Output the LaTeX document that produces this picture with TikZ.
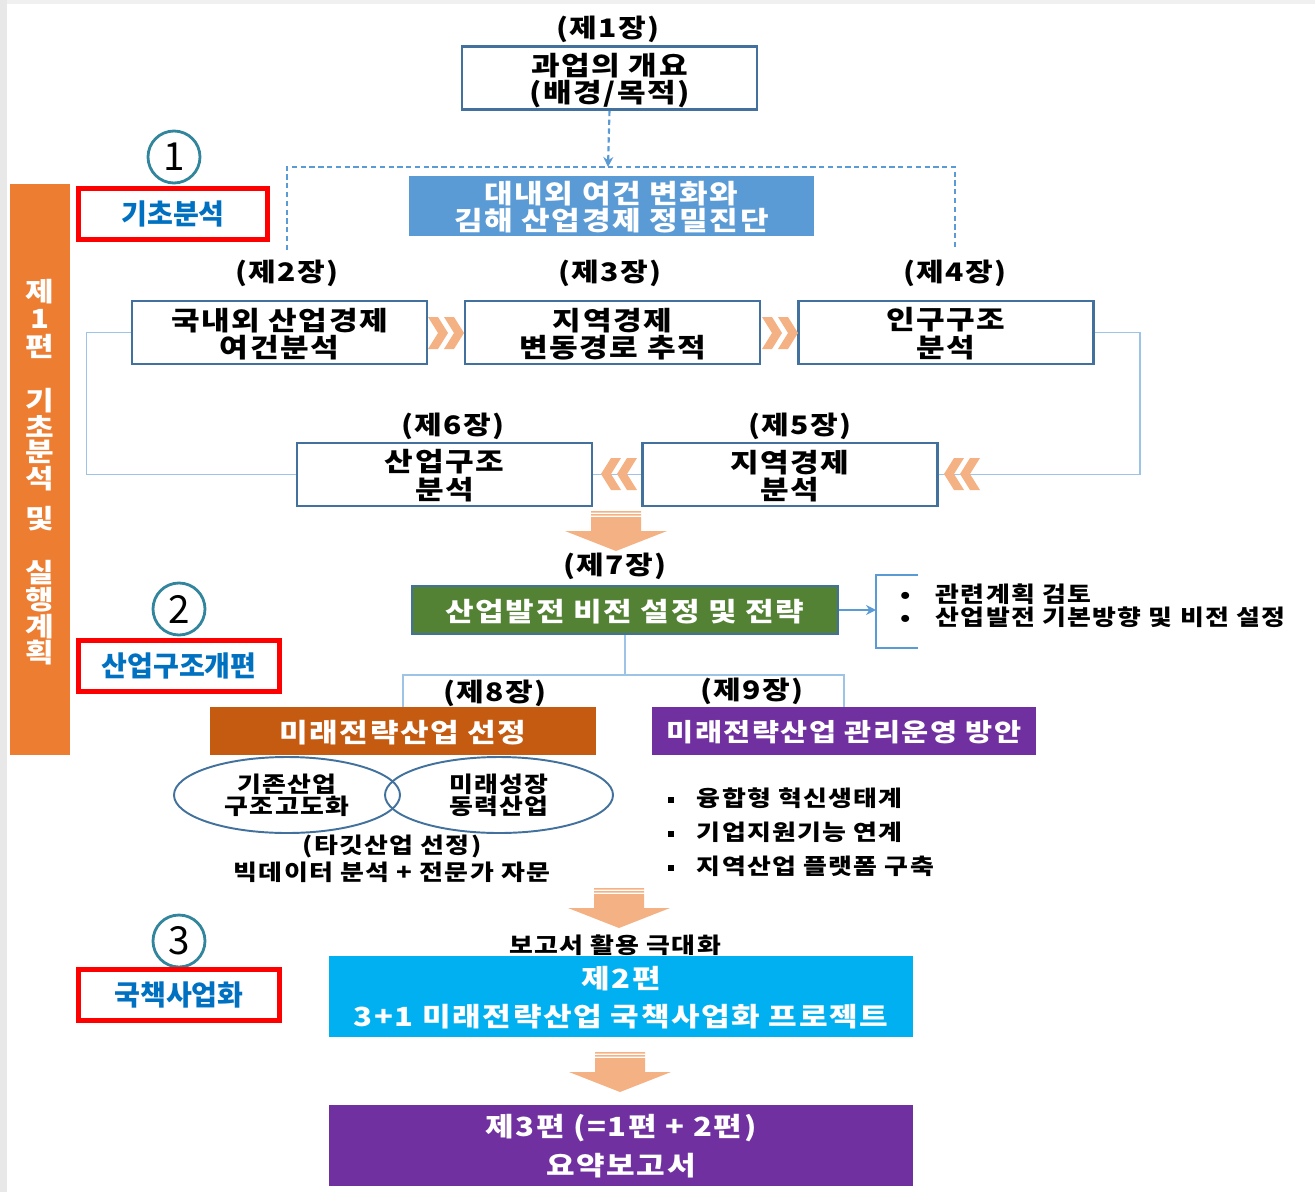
\documentclass[tikz,border=0pt]{standalone}
\usepackage{fontspec}
\setmainfont{Noto Sans CJK KR}[FakeStretch=1.18,LetterSpace=6]
\newfontfamily\krplain{Noto Sans CJK KR}
\usetikzlibrary{arrows.meta,shapes.geometric}
\definecolor{boxblue}{HTML}{41719C}
\definecolor{lineblue}{HTML}{9DC3E6}
\definecolor{dashblue}{HTML}{5B9BD5}
\definecolor{chevorange}{HTML}{F4B183}
\definecolor{barorange}{HTML}{ED7D31}
\definecolor{visgreen}{HTML}{548235}
\definecolor{selbrown}{HTML}{C55A11}
\definecolor{mgmpurple}{HTML}{7030A0}
\definecolor{projcyan}{HTML}{00B0F0}
\definecolor{redtxt}{HTML}{0070C0}
\definecolor{numteal}{HTML}{31859C}
\newcommand\boxfnt{\bfseries\fontsize{15}{15.5}\selectfont}
\newcommand\chapfnt{\bfseries\fontsize{14.5}{14.5}\selectfont}
\newcommand\notefnt{\bfseries\fontsize{12.5}{12.5}\selectfont}
\newcommand\bigfnt{\bfseries\fontsize{15}{22}\selectfont}

\begin{document}
\begin{tikzpicture}[x=0.2mm,y=-0.2mm,
    chapt/.style={font=\chapfnt,inner sep=0pt},
    chbox/.style={draw=boxblue,line width=1.6pt,fill=white,minimum width=59mm,
      minimum height=12.6mm,align=center,font=\boxfnt,inner sep=0pt,text depth=-2.5pt},
    fillbox/.style={text=white,align=center,font=\boxfnt,inner sep=0pt,
      minimum height=9.6mm,text depth=-2.5pt},
    note/.style={font=\notefnt,align=center,inner sep=0pt},
    ell/.style={ellipse,draw=boxblue,line width=1.1pt,minimum height=15.2mm,
      align=center,font=\notefnt,inner sep=0pt},
    redbox/.style={draw=red,line width=2.8pt,minimum height=10.2mm,text=redtxt,
      font=\krplain\bfseries\fontsize{16}{16}\selectfont},
    numc/.style={circle,draw=numteal,line width=1.6pt,minimum size=10.4mm,inner sep=0pt,
      font=\krplain\fontsize{22}{22}\selectfont},
    bartxt/.style={text=white,font=\boxfnt,inner sep=0pt},
    thinline/.style={draw=lineblue,line width=0.8pt},
    dashline/.style={draw=dashblue,line width=1.2pt,dash pattern=on 3pt off 2pt},
    brkline/.style={draw=dashblue,line width=1.1pt},
    chevr/.pic={\fill[chevorange] (0,-16)--(10,-16)--(20,0)--(10,16)--(0,16)--(10,0)--cycle
      (16,-16)--(26,-16)--(36,0)--(26,16)--(16,16)--(26,0)--cycle;},
    bigarr/.pic={\fill[chevorange] (-25,0) rectangle (25,1.5) (-25,3) rectangle (25,4.5)
      (-25,6)--(25,6)--(25,20)--(51,20)--(0,40)--(-51,20)--(-25,20)--cycle;}]
  \useasboundingbox (0,0) rectangle (1315,1192);
  \fill[gray!18] (0,0) rectangle (7,1192);
  \fill[gray!12] (7,0) rectangle (1315,4);

  % left side
  \node[fill=barorange,minimum width=12mm,minimum height=114.2mm] (bar) at (40,469.5) {};
  \foreach \c/\yy in {제/292,1/319,편/346,기/401,초/426,분/452,석/479,및/519,실/573,행/600,계/627,획/653}
    \node[bartxt] (bar-\yy) at (40,\yy) {\c};
  \node[numc] (num1) at (174,157) {1};
  \node[redbox,minimum width=37.8mm] (red1) at (173,214) {기초분석};
  \node[numc] (num2) at (179,609) {2};
  \node[redbox,minimum width=40.2mm] (red2) at (179,666) {산업구조개편};
  \node[numc] (num3) at (179,941) {3};
  \node[redbox,minimum width=40.2mm] (red3) at (179,995) {국책사업화};

  % chapter 1
  \node[chapt] (h1) at (608,29) {(제1장)};
  \node[chbox] (ov) at (609.5,78) {과업의 개요\\(배경/목적)};
  \coordinate (dj) at (608,167);
  \coordinate (dl) at (287,250);
  \coordinate (dr) at (955,250);
  \draw[dashline,-{Stealth[length=2mm,width=2mm]}] (ov.south) -- (dj);
  \draw[dashline] (dl) |- (dj) -| (dr);
  \node[fillbox,fill=dashblue,minimum width=81mm,minimum height=12mm] (diag) at (611.5,206)
    {대내외 여건 변화와\\김해 산업경제 정밀진단};

  % chapters 2-6
  \node[chapt] (h2) at (287,273) {(제2장)};
  \node[chapt] (h3) at (610,273) {(제3장)};
  \node[chapt] (h4) at (955,273) {(제4장)};
  \node[chbox] (c2) at (279.5,332.5) {국내외 산업경제\\여건분석};
  \node[chbox] (c3) at (612.5,332.5) {지역경제\\변동경로 추적};
  \node[chbox] (c4) at (946,332.5) {인구구조\\분석};
  \node[chapt] (h6) at (453,426) {(제6장)};
  \node[chapt] (h5) at (800,426) {(제5장)};
  \node[chbox] (c6) at (444.5,474.5) {산업구조\\분석};
  \node[chbox] (c5) at (790,474.5) {지역경제\\분석};
  \draw[thinline] (c2.west) -- ++(-44,0) |- (c6.west);
  \draw[thinline] (c4.east) -- ++(45,0) |- (c5.east);
  \draw[thinline] (c5.west) -- (c6.east);
  \pic at (428,333) {chevr};
  \pic at (762,333) {chevr};
  \pic[xscale=-1] at (637,474) {chevr};
  \pic[xscale=-1] at (980,474) {chevr};
  \pic at (616,511) {bigarr};

  % chapter 7
  \node[chapt] (h7) at (615,566) {(제7장)};
  \node[fillbox,fill=visgreen,draw=boxblue,line width=1.2pt,minimum width=85.2mm] (vis)
    at (625,610) {산업발전 비전 설정 및 전략};
  \coordinate (brk) at (876,610);
  \draw[brkline,-{Stealth[length=2mm,width=2mm]}] (vis.east) -- (brk);
  \draw[brkline] (918,575) -| (brk) |- (918,648);
  \node[note,anchor=west] (v1) at (900,594) {•\hspace{5mm}관련계획 검토};
  \node[note,anchor=west] (v2) at (900,617) {•\hspace{5mm}산업발전 기본방향 및 비전 설정};

  % chapters 8-9
  \node[fillbox,fill=selbrown,minimum width=77.2mm] (sel) at (403,731) {미래전략산업 선정};
  \node[fillbox,fill=mgmpurple,minimum width=76.8mm,font=\bfseries\fontsize{14.2}{14.2}\selectfont]
    (mgm) at (844,731) {미래전략산업 관리운영 방안};
  \coordinate (vj) at (625,675);
  \draw[thinline] (vis.south) -- (vj);
  \draw[thinline] (sel.north) |- (vj) -| (mgm.north);
  \node[chapt] (h8) at (495,693) {(제8장)};
  \node[chapt] (h9) at (752,691) {(제9장)};
  \node[ell,minimum width=45.2mm] (e1) at (287,795) {기존산업\\구조고도화};
  \node[ell,minimum width=45.6mm] (e2) at (499,795) {미래성장\\동력산업};
  \node[note] (tg) at (392,859) {(타깃산업 선정)\\[0.5mm]빅데이터 분석 + 전문가 자문};
  \node[note,anchor=west] (m1) at (668,798) {\rule[.3ex]{1.2mm}{1.2mm}\hspace{4.5mm}융합형 혁신생태계};
  \node[note,anchor=west] (m2) at (668,832) {\rule[.3ex]{1.2mm}{1.2mm}\hspace{4.5mm}기업지원기능 연계};
  \node[note,anchor=west] (m3) at (668,866) {\rule[.3ex]{1.2mm}{1.2mm}\hspace{4.5mm}지역산업 플랫폼 구축};

  % part 2 and 3
  \pic at (619,888) {bigarr};
  \node[note] (use) at (615,945) {보고서 활용 극대화};
  \node[fillbox,fill=projcyan,minimum width=116.8mm,minimum height=16.2mm,font=\bigfnt] (proj)
    at (621,996.5) {제2편\\3+1 미래전략산업 국책사업화 프로젝트};
  \pic at (620,1052) {bigarr};
  \node[fillbox,fill=mgmpurple,minimum width=116.8mm,minimum height=16.2mm,font=\bigfnt] (sum)
    at (621,1145) {제3편 (=1편 + 2편)\\요약보고서};
\end{tikzpicture}
\end{document}
